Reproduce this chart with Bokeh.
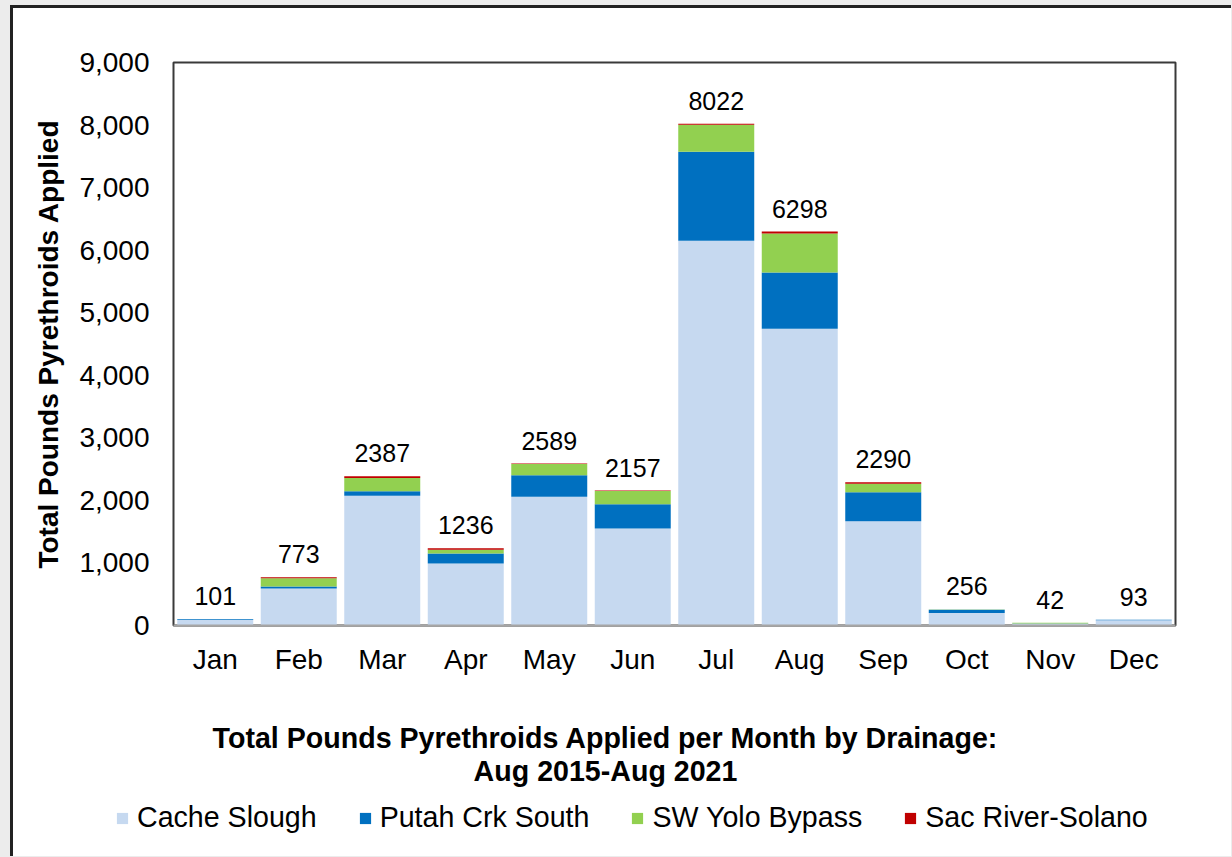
from bokeh.plotting import figure
from bokeh.layouts import column
from bokeh.models import (Range1d, FixedTicker, NumeralTickFormatter, Legend, LegendItem,
                          ColumnDataSource, GlobalInlineStyleSheet)
from bokeh.core.properties import value
from bokeh.embed import file_html
from bokeh.resources import INLINE

months = ["Jan", "Feb", "Mar", "Apr", "May", "Jun", "Jul", "Aug", "Sep", "Oct", "Nov", "Dec"]
cache_slough = [88, 590, 2075, 990, 2060, 1550, 6150, 4745, 1665, 200, 28, 85]
putah_crk_south = [10, 35, 70, 160, 340, 390, 1425, 898, 465, 50, 2, 6]
sw_yolo_bypass = [2, 130, 212, 60, 180, 210, 430, 623, 135, 4, 12, 2]
sac_river_solano = [1, 18, 30, 26, 9, 7, 17, 32, 25, 2, 0, 0]
totals = [101, 773, 2387, 1236, 2589, 2157, 8022, 6298, 2290, 256, 42, 93]
series_names = ["Cache Slough", "Putah Crk South", "SW Yolo Bypass", "Sac River-Solano"]
series_colors = ["#c6d9f0", "#0070c0", "#92d050", "#c00000"]
title_lines = ["Total Pounds Pyrethroids Applied per Month by Drainage:", "Aug 2015-Aug 2021"]
y_ticks = [0, 1000, 2000, 3000, 4000, 5000, 6000, 7000, 8000, 9000]

FONT = "Liberation Sans"
W = 1218
xs = list(range(1, len(months) + 1))

src = ColumnDataSource(dict(
    x=xs, cs=cache_slough, pcs=putah_crk_south, swy=sw_yolo_bypass, sac=sac_river_solano,
    total=totals, label=[str(t) for t in totals]))

# ---------------- main chart ----------------
p = figure(width=W, height=692, output_backend="svg", toolbar_location=None,
           x_range=Range1d(0.5, len(months) + 0.5), y_range=Range1d(0, 9000),
           min_border_left=160, min_border_right=56, min_border_top=54, min_border_bottom=75)
p.border_fill_color = "white"
p.background_fill_color = "white"
p.outline_line_color = "#3a3a3a"
p.outline_line_width = 2
p.grid.visible = False

renderers = p.vbar_stack(["cs", "pcs", "swy", "sac"], x="x", width=0.91, source=src,
                         color=series_colors, line_color=None)

p.text(x="x", y="total", text="label", source=src, text_align="center",
       text_baseline="bottom", y_offset=-14, text_font=value(FONT),
       text_font_size="25px", text_color="black")

p.xaxis.ticker = FixedTicker(ticks=xs)
p.xaxis.major_label_overrides = {i: m for i, m in zip(xs, months)}
p.xaxis.major_label_text_font = FONT
p.xaxis.major_label_text_font_size = "28px"
p.xaxis.major_label_text_color = "black"
p.xaxis.major_label_standoff = 18
p.xaxis.major_tick_out = 0
p.xaxis.major_tick_line_color = None
p.xaxis.minor_tick_line_color = None
p.xaxis.axis_line_color = "#a6a6a6"
p.xaxis.axis_line_width = 2

p.yaxis.ticker = FixedTicker(ticks=y_ticks)
p.yaxis.formatter = NumeralTickFormatter(format="0,0")
p.yaxis.major_label_text_font = FONT
p.yaxis.major_label_text_font_size = "28px"
p.yaxis.major_label_text_color = "black"
p.yaxis.major_label_standoff = 24
p.yaxis.major_tick_out = 0
p.yaxis.major_tick_line_color = None
p.yaxis.minor_tick_line_color = None
p.yaxis.axis_line_color = None
p.yaxis.axis_label = "Total Pounds Pyrethroids Applied"
p.yaxis.axis_label_text_font = FONT
p.yaxis.axis_label_text_font_size = "28px"
p.yaxis.axis_label_text_font_style = "bold"
p.yaxis.axis_label_text_color = "black"
p.yaxis.axis_label_standoff = 12

# ---------------- footer: title + legend ----------------
FH = 156
f = figure(width=W, height=FH, output_backend="svg", toolbar_location=None,
           x_range=Range1d(0, W), y_range=Range1d(0, FH),
           min_border_left=0, min_border_right=0, min_border_top=0, min_border_bottom=0)
f.frame_align = False
f.axis.visible = False
f.grid.visible = False
f.outline_line_color = None
f.border_fill_color = "white"
f.background_fill_color = "white"

f.text(x=[592, 592], y=[119, 86], text=title_lines, text_align="center",
       text_baseline="middle", text_font=value(FONT), text_font_size="28.6px",
       text_font_style="bold", text_color="black")

# legend proxy renderers (placed outside the visible range; only their legend glyphs show)
proxies = [f.vbar(x=[-1000], top=[0], width=1, color=c, line_color=None) for c in series_colors]
legend = Legend(items=[LegendItem(label=n, renderers=[r]) for n, r in zip(series_names, proxies)],
                orientation="horizontal", location=(102, 22), margin=0, padding=0,
                spacing=41, label_standoff=8, glyph_width=14, glyph_height=14,
                label_text_font=FONT, label_text_font_size="28.6px", label_text_color="black",
                background_fill_alpha=0, border_line_color=None)
f.add_layout(legend, "center")

layout = column(p, f, spacing=0)
layout.styles = {"margin-left": "10px", "margin-top": "5px", "background": "white",
                 "border-left": "3px solid #222", "border-top": "3px solid #222"}
layout.stylesheets = [GlobalInlineStyleSheet(css="body { background: #ececec; }")]

open("out.html", "w").write(file_html(layout, INLINE))
